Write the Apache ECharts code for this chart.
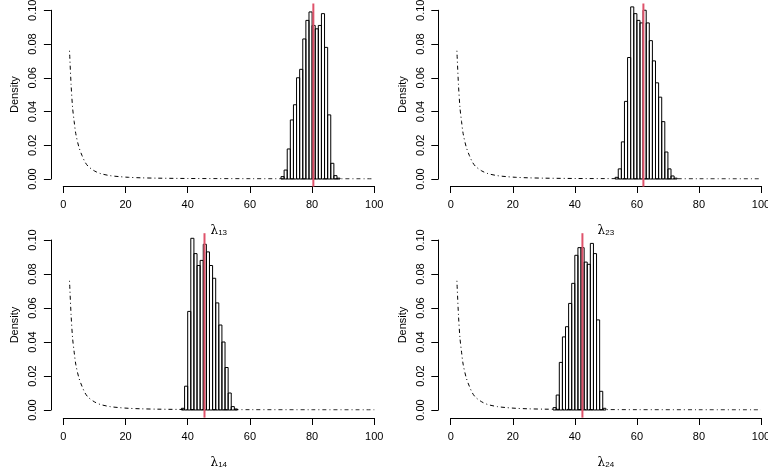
<!DOCTYPE html>
<html>
<head>
<meta charset="utf-8">
<script src="https://cdn.jsdelivr.net/npm/echarts@6/dist/echarts.min.js"></script>
<style>
  html, body { margin: 0; padding: 0; background: #fff; }
  #chart { width: 768px; height: 468px; }
</style>
</head>
<body>
<div id="chart"></div>
<script>
// histogram bins (left edge, width 1) and densities
const lam13Bins = [70, 71, 72, 73, 74, 75, 76, 77, 78, 79, 80, 81, 82, 83, 84, 85, 86, 87, 88];
const lam13Dens = [0.0014, 0.0053, 0.0178, 0.035, 0.044, 0.060, 0.065, 0.083, 0.094, 0.099, 0.091, 0.089, 0.091, 0.098, 0.078, 0.038, 0.0093, 0.002, 0.0005];

const lam23Bins = [53, 54, 55, 56, 57, 58, 59, 60, 61, 62, 63, 64, 65, 66, 67, 68, 69, 70, 71, 72];
const lam23Dens = [0.001, 0.006, 0.022, 0.046, 0.072, 0.102, 0.098, 0.094, 0.0925, 0.100, 0.0925, 0.082, 0.070, 0.057, 0.0485, 0.034, 0.016, 0.006, 0.0018, 0.0005];

const lam14Bins = [38, 39, 40, 41, 42, 43, 44, 45, 46, 47, 48, 49, 50, 51, 52, 53, 54, 55];
const lam14Dens = [0.001, 0.014, 0.058, 0.101, 0.092, 0.085, 0.088, 0.0975, 0.093, 0.085, 0.0775, 0.063, 0.050, 0.040, 0.025, 0.010, 0.002, 0.0006];

const lam24Bins = [33, 34, 35, 36, 37, 38, 39, 40, 41, 42, 43, 44, 45, 46, 47, 48, 49];
const lam24Dens = [0.0014, 0.0088, 0.028, 0.043, 0.049, 0.0627, 0.0745, 0.091, 0.0955, 0.0955, 0.087, 0.0857, 0.098, 0.092, 0.053, 0.011, 0.001];

// prior density curve (same on every panel)
const priorX = [2, 2.5, 3, 3.5, 4, 5, 6, 7, 8, 10, 12, 15, 18, 21, 25, 30, 40, 50, 60, 80, 100];
const priorY = [0.076, 0.056, 0.042, 0.034, 0.027, 0.019, 0.014, 0.010, 0.0075, 0.0048, 0.0032, 0.002, 0.0014, 0.001, 0.0007, 0.0005, 0.0003, 0.0002, 0.00013, 0.00008, 0.00005];

// red vertical lines (true values)
const trueVals = [80.4, 62.1, 45.4, 42.45];

const xTicks = [0, 20, 40, 60, 80, 100];
const yTicks = [0, 0.02, 0.04, 0.06, 0.08, 0.1];

const FONT = 'Liberation Sans, Arial, Helvetica, sans-serif';

const panels = [
  { bins: lam13Bins, dens: lam13Dens, sub: '13', left: 63.3, top: 10.25, width: 311, height: 168.75, xOff: 7 },
  { bins: lam23Bins, dens: lam23Dens, sub: '23', left: 450.7, top: 10.25, width: 310.3, height: 168.75, xOff: 7 },
  { bins: lam14Bins, dens: lam14Dens, sub: '14', left: 63.3, top: 240, width: 311, height: 170, xOff: 8 },
  { bins: lam24Bins, dens: lam24Dens, sub: '24', left: 450.7, top: 240, width: 310.3, height: 170, xOff: 8 },
];

const grid = [], xAxis = [], yAxis = [], series = [];

panels.forEach((p, i) => {
  grid.push({
    left: p.left, top: p.top, width: p.width, height: p.height,
    containLabel: false, outerBoundsMode: 'none',
  });

  xAxis.push({
    gridIndex: i, type: 'value', min: xTicks[0], max: xTicks[xTicks.length - 1], interval: 20,
    offset: p.xOff,
    splitLine: { show: false },
    axisLine: { onZero: false, lineStyle: { color: '#000', width: 1 } },
    axisTick: { length: 7, lineStyle: { color: '#000' } },
    axisLabel: { color: '#000', fontSize: 11, fontFamily: FONT, margin: 13, hideOverlap: false },
    name: '{l|λ}{s|' + p.sub + '}',
    nameLocation: 'middle',
    nameGap: 35,
    nameTextStyle: {
      rich: {
        l: { fontSize: 12, fontFamily: 'DejaVu Serif, serif', color: '#000', lineHeight: 16, verticalAlign: 'bottom' },
        s: { fontSize: 8, fontFamily: FONT, color: '#000', lineHeight: 16, verticalAlign: 'bottom' },
      },
    },
  });

  yAxis.push({
    gridIndex: i, type: 'value', min: yTicks[0], max: yTicks[yTicks.length - 1], interval: 0.02,
    offset: 12.4,
    splitLine: { show: false },
    axisLine: { show: true, onZero: false, lineStyle: { color: '#000', width: 1 } },
    axisTick: { show: true, length: 7, lineStyle: { color: '#000' } },
    axisLabel: {
      color: '#000', fontSize: 11, fontFamily: FONT, margin: 12, rotate: 90,
      formatter: v => v.toFixed(2), hideOverlap: false,
    },
    name: 'Density',
    nameLocation: 'middle',
    nameGap: 30,
    nameRotate: 90,
    nameTextStyle: { color: '#000', fontSize: 11, fontFamily: FONT },
  });

  // histogram bars
  series.push({
    type: 'custom',
    xAxisIndex: i, yAxisIndex: i,
    clip: false,
    data: p.bins.map((b, k) => [b, p.dens[k]]),
    renderItem: function (params, api) {
      const x0 = api.value(0);
      const d = api.value(1);
      const a = api.coord([x0, 0]);
      const b = api.coord([x0 + 1, d]);
      return {
        type: 'rect',
        shape: { x: a[0], y: b[1], width: b[0] - a[0], height: a[1] - b[1] },
        style: { fill: 'none', stroke: '#000', lineWidth: 1 },
      };
    },
  });

  // prior, dot-dash
  series.push({
    type: 'line',
    xAxisIndex: i, yAxisIndex: i,
    data: priorX.map((x, k) => [x, priorY[k]]),
    showSymbol: false,
    symbol: 'none',
    smooth: 0.3,
    lineStyle: { color: '#000', width: 1, type: [1, 3, 4, 3] },
  });

  // true value
  series.push({
    type: 'line',
    xAxisIndex: i, yAxisIndex: i,
    clip: false,
    data: [[trueVals[i], -0.0045], [trueVals[i], 0.104]],
    symbol: 'none',
    lineStyle: { color: '#DF536B', width: 2 },
  });
});

const chart = echarts.init(document.getElementById('chart'), null, { renderer: 'canvas' });
chart.setOption({
  animation: false,
  backgroundColor: '#fff',
  grid: grid,
  xAxis: xAxis,
  yAxis: yAxis,
  series: series,
});
</script>
</body>
</html>
